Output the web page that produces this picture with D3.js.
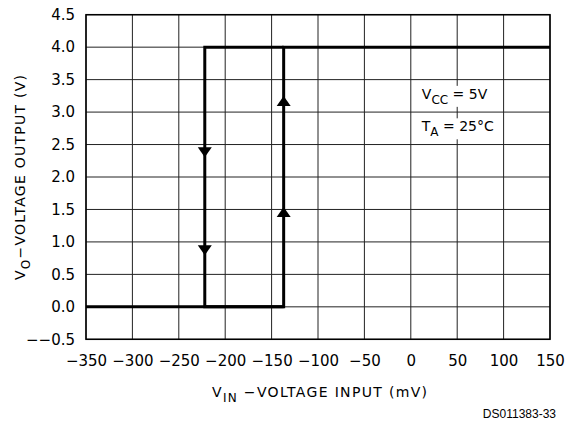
<!DOCTYPE html>
<html>
<head>
<meta charset="utf-8">
<script src="https://cdn.jsdelivr.net/npm/d3@7"></script>
<style>
  body { margin: 0; background: #fff; }
  text { font-family: "DejaVu Sans", sans-serif; fill: #000; }
</style>
</head>
<body>
<script>
"use strict";

// data
var xTicks = [-350, -300, -250, -200, -150, -100, -50, 0, 50, 100, 150];
var yTicks = [-0.5, 0, 0.5, 1.0, 1.5, 2.0, 2.5, 3.0, 3.5, 4.0, 4.5];
// hysteresis loop (mV, V): rising edge
var riseX = [-350, -137, -137, 150];
var riseY = [0, 0, 4, 4];
// falling edge
var fallX = [-137, -222, -222, -137];
var fallY = [4, 4, 0, 0];
// arrowheads: x, y centre, direction
var arrowX = [-222, -222, -137, -137];
var arrowY = [2.38, 0.87, 3.17, 1.46];
var arrowDir = ["down", "down", "up", "up"];

var W = 568, H = 431;
var margin = { top: 14.7, right: 18, bottom: 91.7, left: 86 };
var width = W - margin.left - margin.right,
    height = H - margin.top - margin.bottom;

var svg = d3.select("body").append("svg")
    .attr("width", W)
    .attr("height", H);

var g = svg.append("g")
    .attr("transform", "translate(" + margin.left + "," + margin.top + ")");

var x = d3.scaleLinear().domain([-350, 150]).range([0, width]);
var y = d3.scaleLinear().domain([-0.5, 4.5]).range([height, 0]);

function minus(v, s) {
    return v < 0 ? "\u2212" + s.replace("-", "") : s;
}

// grid
g.append("g").selectAll("line")
    .data(xTicks)
    .enter().append("line")
    .attr("x1", function (d) { return x(d); })
    .attr("x2", function (d) { return x(d); })
    .attr("y1", 0).attr("y2", height)
    .attr("stroke", "#222").attr("stroke-width", 1);

g.append("g").selectAll("line")
    .data(yTicks)
    .enter().append("line")
    .attr("y1", function (d) { return y(d); })
    .attr("y2", function (d) { return y(d); })
    .attr("x1", 0).attr("x2", width)
    .attr("stroke", "#222").attr("stroke-width", 1);

// frame
g.append("rect")
    .attr("width", width).attr("height", height)
    .attr("fill", "none").attr("stroke", "#000").attr("stroke-width", 1.5);

// tick labels
var xAxis = d3.axisBottom(x).tickValues(xTicks).tickSize(0).tickPadding(16)
    .tickFormat(function (d) { return minus(d, String(d)); });
var gx = g.append("g").attr("transform", "translate(0," + height + ")").call(xAxis);
gx.select(".domain").remove();
gx.selectAll("text").style("font-size", "15px").style("font-family", null);

var yAxis = d3.axisLeft(y).tickValues(yTicks).tickSize(0).tickPadding(11)
    .tickFormat(function (d) { return minus(d, d3.format(".1f")(d)); });
var gy = g.append("g").call(yAxis);
gy.select(".domain").remove();
gy.selectAll("text").style("font-size", "15px").style("font-family", null);

// annotation
var notes = [
    { main: "V", sub: "CC", rest: " = 5V", yv: 3.25 },
    { main: "T", sub: "A", rest: " = 25\u00B0C", yv: 2.75 }
];
notes.forEach(function (n) {
    var t = g.append("text")
        .attr("x", x(0) + 11)
        .attr("y", y(n.yv) + 3)
        .style("font-size", "14px");
    t.append("tspan").text(n.main);
    t.append("tspan").attr("dy", 5).style("font-size", "12px").text(n.sub);
    t.append("tspan").attr("dy", -5).text(n.rest);
    var bb = t.node().getBBox();
    g.insert("rect", function () { return t.node(); })
        .attr("x", bb.x - 2).attr("y", bb.y)
        .attr("width", bb.width + 4).attr("height", bb.height)
        .attr("fill", "#fff");
});

// curves
var line = d3.line()
    .x(function (d) { return x(d[0]); })
    .y(function (d) { return y(d[1]); });

g.append("path")
    .datum(riseX.map(function (v, i) { return [v, riseY[i]]; }))
    .attr("d", line)
    .attr("fill", "none").attr("stroke", "#000").attr("stroke-width", 3);

g.append("path")
    .datum(fallX.map(function (v, i) { return [v, fallY[i]]; }))
    .attr("d", line)
    .attr("fill", "none").attr("stroke", "#000").attr("stroke-width", 3);

// arrowheads
g.append("g").selectAll("path")
    .data(arrowX.map(function (v, i) { return { x: v, y: arrowY[i], dir: arrowDir[i] }; }))
    .enter().append("path")
    .attr("transform", function (d) {
        return "translate(" + x(d.x) + "," + y(d.y) + ")" + (d.dir === "up" ? " rotate(180)" : "");
    })
    .attr("d", "M-7,-5L7,-5L0,5Z")
    .attr("fill", "#000");

// axis titles
var xt = svg.append("text")
    .attr("x", 212).attr("y", 397)
    .attr("textLength", 215)
    .attr("lengthAdjust", "spacing")
    .style("font-size", "14px");
xt.append("tspan").text("V");
xt.append("tspan").attr("dy", 5).style("font-size", "12px").text("IN");
xt.append("tspan").attr("dy", -5).text(" \u2212VOLTAGE INPUT (mV)");

var yt = svg.append("text")
    .attr("transform", "translate(25,280) rotate(-90)")
    .attr("textLength", 205)
    .attr("lengthAdjust", "spacing")
    .style("font-size", "14px");
yt.append("tspan").text("V");
yt.append("tspan").attr("dy", 5).style("font-size", "12px").text("O");
yt.append("tspan").attr("dy", -5).text("\u2212VOLTAGE OUTPUT (V)");

svg.append("text")
    .attr("x", 556).attr("y", 418)
    .attr("text-anchor", "end")
    .style("font-family", "'Liberation Sans', Arial, sans-serif")
    .style("font-size", "12px")
    .text("DS011383-33");
</script>
</body>
</html>
